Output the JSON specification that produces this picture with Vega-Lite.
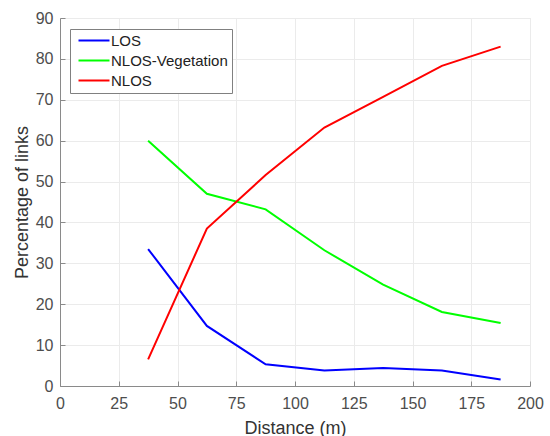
{
  "$schema": "https://vega.github.io/schema/vega-lite/v6.json",
  "autosize": {"type": "none"},
  "width": 470,
  "height": 368,
  "padding": {"left": 60, "top": 18, "right": 20, "bottom": 50},
  "background": "white",
  "config": {
    "font": "Liberation Sans",
    "view": {"stroke": "#e6e6e6", "strokeWidth": 1},
    "axis": {
      "gridColor": "#ebebeb",
      "gridWidth": 1,
      "domainColor": "#8a8a8a",
      "domainWidth": 1,
      "tickColor": "#8a8a8a",
      "tickSize": -5,
      "labelColor": "#4d4d4d",
      "labelFontSize": 16,
      "labelFlush": false,
      "titleColor": "#333333",
      "titleFontSize": 18,
      "titleFontWeight": "normal"
    }
  },
  "data": {
    "values": [
      {"d": 37.5, "s": "LOS", "v": 33.5},
      {"d": 62.5, "s": "LOS", "v": 14.7},
      {"d": 87.5, "s": "LOS", "v": 5.3},
      {"d": 112.5, "s": "LOS", "v": 3.8},
      {"d": 137.5, "s": "LOS", "v": 4.4},
      {"d": 162.5, "s": "LOS", "v": 3.8},
      {"d": 187.5, "s": "LOS", "v": 1.6},
      {"d": 37.5, "s": "NLOS-Vegetation", "v": 60},
      {"d": 62.5, "s": "NLOS-Vegetation", "v": 47},
      {"d": 87.5, "s": "NLOS-Vegetation", "v": 43.2},
      {"d": 112.5, "s": "NLOS-Vegetation", "v": 33.2},
      {"d": 137.5, "s": "NLOS-Vegetation", "v": 24.8},
      {"d": 162.5, "s": "NLOS-Vegetation", "v": 18.1},
      {"d": 187.5, "s": "NLOS-Vegetation", "v": 15.4},
      {"d": 37.5, "s": "NLOS", "v": 6.5},
      {"d": 62.5, "s": "NLOS", "v": 38.5},
      {"d": 87.5, "s": "NLOS", "v": 51.6},
      {"d": 112.5, "s": "NLOS", "v": 63.2},
      {"d": 137.5, "s": "NLOS", "v": 70.7},
      {"d": 162.5, "s": "NLOS", "v": 78.3},
      {"d": 187.5, "s": "NLOS", "v": 83}
    ]
  },
  "mark": {"type": "line", "strokeWidth": 2},
  "encoding": {
    "x": {
      "field": "d",
      "type": "quantitative",
      "title": "Distance (m)",
      "scale": {"domain": [0, 200], "nice": false},
      "axis": {"values": [0, 25, 50, 75, 100, 125, 150, 175, 200], "labelPadding": 14, "titlePadding": 8}
    },
    "y": {
      "field": "v",
      "type": "quantitative",
      "title": "Percentage of links",
      "scale": {"domain": [0, 90], "nice": false},
      "axis": {"values": [0, 10, 20, 30, 40, 50, 60, 70, 80, 90], "labelPadding": 12, "titlePadding": 4}
    },
    "color": {
      "field": "s",
      "type": "nominal",
      "scale": {
        "domain": ["LOS", "NLOS-Vegetation", "NLOS"],
        "range": ["#0000ff", "#00ff00", "#ff0000"]
      },
      "legend": {
        "title": null,
        "orient": "none",
        "legendX": 10,
        "legendY": 11,
        "symbolType": "M-0.6,0H5.6",
        "symbolSize": 100,
        "symbolStrokeWidth": 2,
        "labelFontSize": 15,
        "labelColor": "#222222",
        "rowPadding": 4,
        "padding": 4,
        "strokeColor": "#808080",
        "fillColor": "white",
        "labelOffset": 22
      }
    }
  }
}
